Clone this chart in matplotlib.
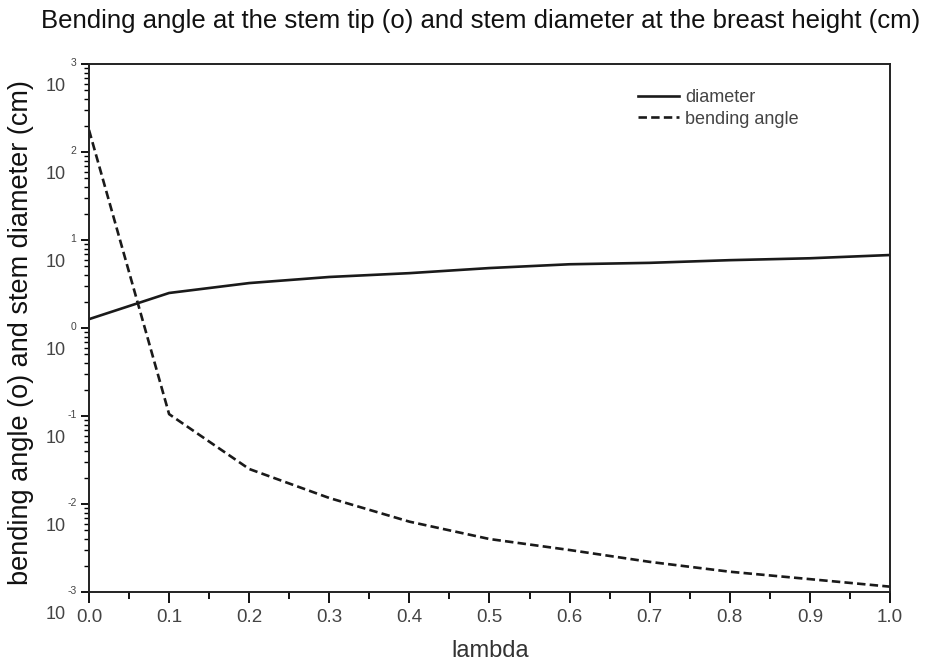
import matplotlib
matplotlib.use("Agg")
import matplotlib.pyplot as plt
import matplotlib.transforms as mtransforms
from matplotlib.ticker import LogLocator, MultipleLocator, NullFormatter, FixedLocator

plt.rcParams['font.family'] = ['Liberation Sans', 'DejaVu Sans']

lam = [0.0, 0.1, 0.2, 0.3, 0.4, 0.5, 0.6, 0.7, 0.8, 0.9, 1.0]
diameter = [1.26, 2.5, 3.24, 3.8, 4.2, 4.8, 5.3, 5.5, 5.9, 6.2, 6.75]
bending = [178, 0.105, 0.025, 0.0117, 0.0063, 0.0040, 0.0030, 0.0022, 0.0017, 0.0014, 0.00115]

xticks = [0.0, 0.1, 0.2, 0.3, 0.4, 0.5, 0.6, 0.7, 0.8, 0.9, 1.0]
xtick_labels = ["0.0", "0.1", "0.2", "0.3", "0.4", "0.5", "0.6", "0.7", "0.8", "0.9", "1.0"]
decades = [3, 2, 1, 0, -1, -2, -3]

fig = plt.figure(figsize=(9.28, 6.64), dpi=100)
ax = fig.add_axes([89/928, 1 - 592/664, (890 - 89)/928, (592 - 64)/664])

ax.plot(lam, diameter, color='#1a1a1a', lw=1.9, label='diameter')
ax.plot(lam, bending, color='#1a1a1a', lw=1.9, ls=(0, (3.2, 1.6)), label='bending angle')

ax.set_yscale('log')
ax.set_xlim(0, 1)
ax.set_ylim(1e-3, 1e3)

ax.xaxis.set_major_locator(FixedLocator(xticks))
ax.set_xticklabels(xtick_labels)
ax.xaxis.set_minor_locator(MultipleLocator(0.05))
ax.yaxis.set_major_locator(LogLocator(base=10, numticks=20))
ax.yaxis.set_minor_locator(LogLocator(base=10, subs=range(2, 10), numticks=20))
ax.yaxis.set_major_formatter(NullFormatter())
ax.yaxis.set_minor_formatter(NullFormatter())

ax.tick_params(axis='x', which='major', length=8, width=1.3, direction='out',
               labelsize=13.5, labelcolor='#444444', pad=4)
ax.tick_params(axis='x', which='minor', length=5, width=1.3, direction='out')
ax.tick_params(axis='y', which='major', length=6, width=1.3, direction='out')
ax.tick_params(axis='y', which='minor', length=3.5, width=1.0, direction='out')

for s in ax.spines.values():
    s.set_linewidth(1.4)
    s.set_color('#222222')

# custom y tick labels: "10" with detached exponent
trans = mtransforms.blended_transform_factory(ax.transAxes, ax.transData)
for d in decades:
    ax.annotate("10", xy=(0, 10.0**d), xycoords=trans, xytext=(-17, -16.5),
                textcoords='offset points', ha='right', va='center',
                fontsize=13, color='#444444', annotation_clip=False)
    ax.annotate(str(d), xy=(0, 10.0**d), xycoords=trans,
                xytext=(-9, 1), textcoords='offset points', ha='right',
                va='center', fontsize=7.5, color='#444444', annotation_clip=False)

fig.text(481/928, 1 - 21/664, "Bending angle at the stem tip (o) and stem diameter at the breast height (cm)",
         ha='center', va='center', fontsize=18.5, color='#111111')
fig.text(21/928, 1 - 333/664, "bending angle (o) and stem diameter (cm)", rotation=90,
         ha='center', va='center', fontsize=19.5, color='#111111')
fig.text(490/928, 1 - 651/664, "lambda", ha='center', va='center', fontsize=17, color='#333333')

leg = ax.legend(loc='upper left', bbox_to_anchor=(540/801, 1 - 16/528), frameon=False,
                fontsize=13, handlelength=2.27, handletextpad=0.33, labelspacing=0.25,
                borderpad=0)
for t in leg.get_texts():
    t.set_color('#444444')

fig.savefig("out.png", dpi=100, facecolor='white')
